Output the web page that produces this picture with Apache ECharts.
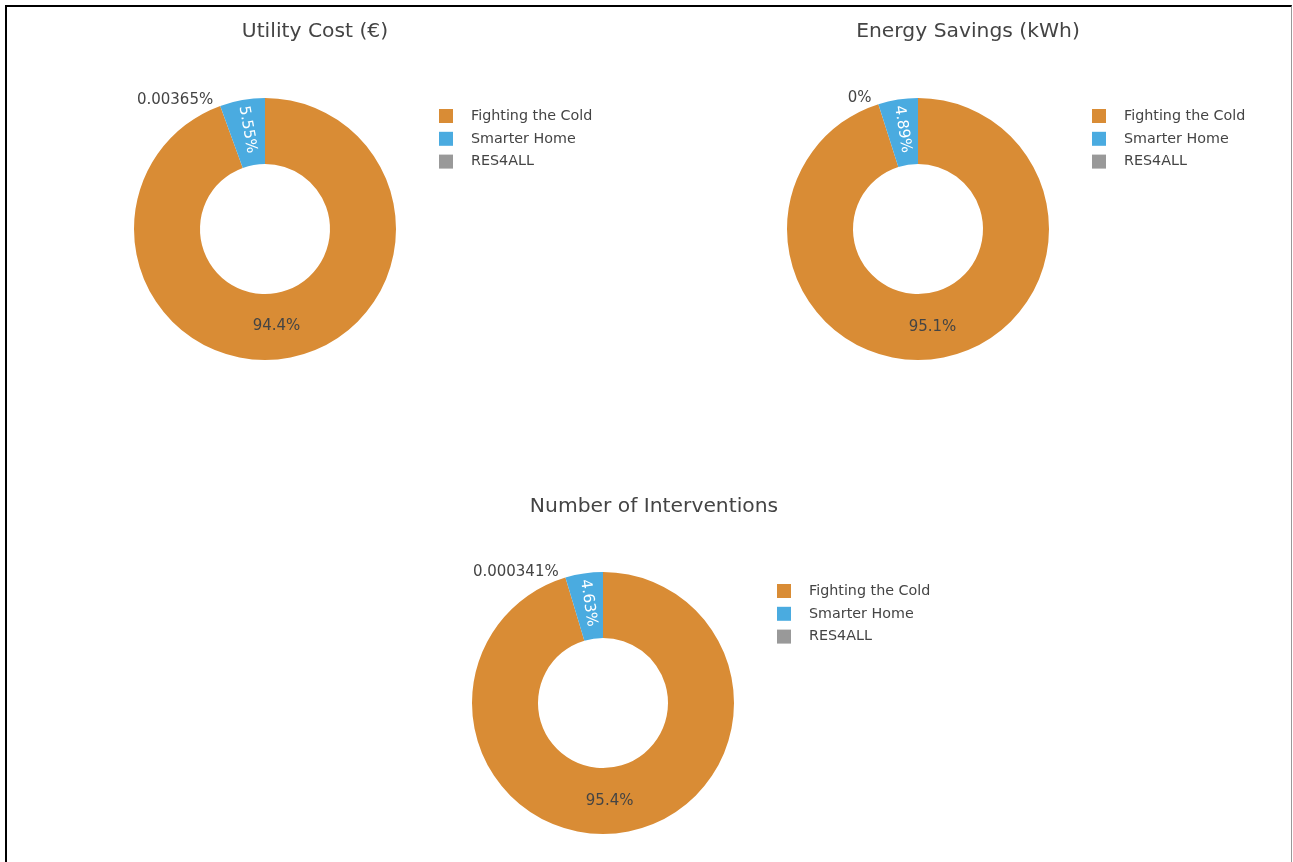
<!DOCTYPE html>
<html>
<head>
<meta charset="utf-8">
<script src="https://cdn.jsdelivr.net/npm/echarts@6/dist/echarts.min.js"></script>
<style>
html,body{margin:0;padding:0;background:#fff;width:1293px;height:862px;overflow:hidden;}
#frame{position:absolute;left:5px;top:5px;width:1284px;height:900px;border-top:2px solid #000;border-left:2px solid #000;border-right:1px solid #999;}
#chart{position:absolute;left:0;top:0;width:1293px;height:862px;}
</style>
</head>
<body>
<div id="frame"></div>
<div id="chart"></div>
<script>
// Categories (legend order)
const categories = ['Fighting the Cold', 'Smarter Home', 'RES4ALL'];
const colors = { 'Fighting the Cold': '#d98c35', 'Smarter Home': '#4aabe0', 'RES4ALL': '#999999' };
// Chart titles
const titles = ['Utility Cost (€)', 'Energy Savings (kWh)', 'Number of Interventions'];
// Series values (shares, in category order)
const utilityCost = [94.44635, 5.55, 0.00365];
const energySavings = [95.11, 4.89, 0];
const interventions = [95.369659, 4.63, 0.000341];

const seriesValues = [utilityCost, energySavings, interventions];

// Layout (positions in px)
const layout = [
  { center: [265, 229], title: [315, 22], legend: [439, 109], bigOffset: [-6, -2] },
  { center: [918, 229], title: [968, 22], legend: [1092, 109], bigOffset: [-1, -2] },
  { center: [603, 703], title: [654, 497], legend: [777, 584], bigOffset: [-8, -2] }
];

const FONT = 'DejaVu Sans, Verdana, sans-serif';

function fmtPct(v, total) {
  if (v === 0) return '0%';
  const p = v / total * 100;
  return String(Number(p.toPrecision(3))) + '%';
}

// Draw order around the ring: Fighting the Cold, RES4ALL, Smarter Home (clockwise from 12 o'clock)
const drawOrder = [0, 2, 1];

const chart = echarts.init(document.getElementById('chart'), null, { renderer: 'canvas' });

const series = seriesValues.map((vals, i) => {
  const total = vals.reduce((a, b) => a + b, 0);
  return {
    type: 'pie',
    name: titles[i],
    center: layout[i].center,
    radius: [65, 131],
    startAngle: 90,
    clockwise: true,
    avoidLabelOverlap: false,
    minShowLabelAngle: 0,
    animation: false,
    emphasis: { disabled: true },
    label: {
      fontFamily: FONT, fontSize: 15, color: '#444',
      formatter: p => fmtPct(p.value, total)
    },
    labelLine: { show: false, length: 5, length2: 0 },
    data: drawOrder.map(k => {
      const name = categories[k];
      const item = { name: name, value: vals[k], itemStyle: { color: colors[name] } };
      if (k === 0) {
        item.label = { position: 'inside', color: '#444', offset: layout[i].bigOffset };
      } else if (k === 1) {
        item.label = { position: 'inside', rotate: 'radial', color: '#fff' };
      } else {
        item.label = { position: 'outside', color: '#444' };
        item.labelLine = { show: false, length: 6, length2: 0 };
      }
      return item;
    })
  };
});

chart.setOption({
  backgroundColor: 'transparent',
  title: titles.map((t, i) => ({
    text: t,
    left: layout[i].title[0],
    top: layout[i].title[1],
    textAlign: 'center',
    padding: 0,
    textStyle: { fontFamily: FONT, fontSize: 20.3, fontWeight: 'normal', color: '#444' }
  })),
  legend: layout.map(l => ({
    data: categories,
    orient: 'vertical',
    left: l.legend[0],
    top: l.legend[1],
    padding: 0,
    icon: 'rect',
    itemWidth: 14,
    itemHeight: 14,
    itemGap: 8.8,
    selectedMode: false,
    textStyle: { fontFamily: FONT, fontSize: 14.3, color: '#444', padding: [0, 0, 0, 13] }
  })),
  series: series
});
</script>
</body>
</html>
